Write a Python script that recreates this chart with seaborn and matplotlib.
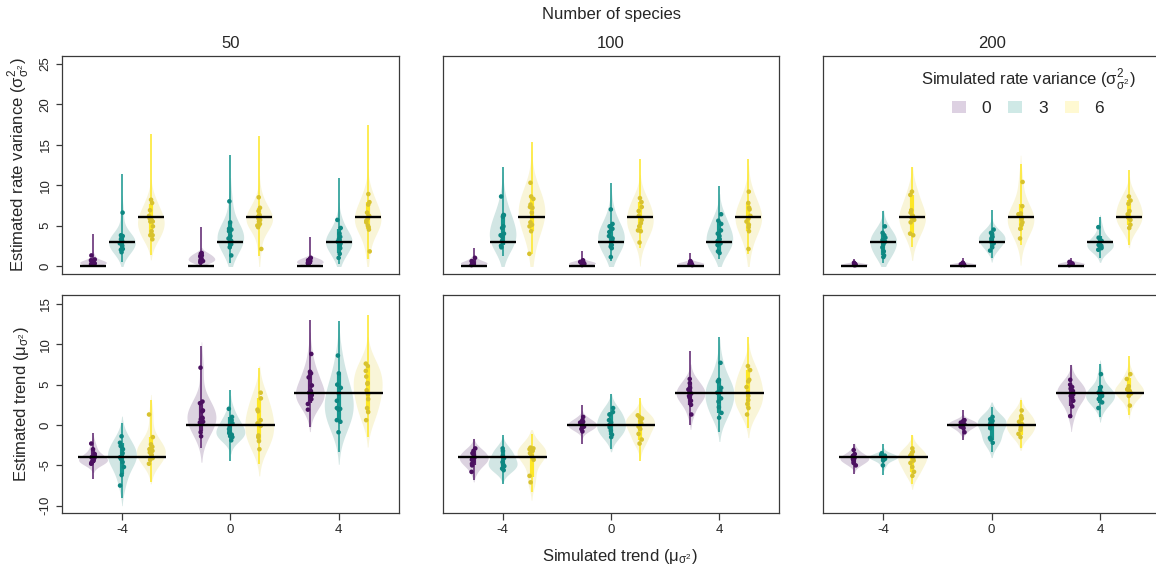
import numpy as np
import pandas as pd
import seaborn as sns
import matplotlib
matplotlib.use("Agg")
import matplotlib.pyplot as plt
from matplotlib.patches import Rectangle, Patch

# ------------------------------------------------------------------ data
species_labels = ["50", "100", "200"]
trend_levels = ["-4", "0", "4"]
variance_levels = ["0", "3", "6"]
true_trend = [-4, 0, 4]
true_variance = [0, 3, 6]

# top row: estimated rate variance; one list per simulated variance (0, 3, 6)
rate50_tm4 = [[0.2, 0.4, 0.5, 0.6, 0.3, 0.8, 1.3, 0.5, 0.2, 0.4, 0.7, 0.3],
              [6.6, 3.8, 3.7, 3.0, 2.8, 2.5, 2.0, 1.7, 3.3, 2.1, 3.5, 2.9],
              [8.2, 7.8, 6.9, 5.9, 5.5, 5.5, 4.9, 4.3, 3.8, 3.3, 3.8, 6.2, 5.7]]
rate50_t0 = [[1.6, 1.5, 1.2, 1.0, 0.8, 0.5, 0.4, 0.9, 0.6, 1.3, 0.7],
             [8.0, 5.4, 4.6, 4.3, 3.7, 3.4, 3.0, 2.3, 1.3, 4.5, 3.1, 2.7],
             [8.5, 7.2, 6.8, 6.3, 5.9, 5.5, 5.0, 4.8, 2.1, 6.1, 5.7, 5.2]]
rate50_t4 = [[1.0, 0.8, 0.6, 0.4, 0.3, 0.2, 0.5, 0.7, 0.3, 0.9],
             [5.7, 4.7, 4.0, 3.3, 3.2, 3.0, 2.8, 2.2, 1.5, 1.0, 3.6, 2.5],
             [8.9, 7.9, 7.6, 6.6, 5.9, 5.6, 5.4, 4.8, 4.5, 1.8, 6.2, 5.0]]
rate50_lo95 = [0.0, 0.5, 1.4, 0.0, 0.4, 1.2, 0.0, 0.2, 0.8]
rate50_hi95 = [3.9, 11.4, 16.4, 4.8, 13.7, 16.1, 3.6, 10.9, 17.4]

rate100_tm4 = [[1.0, 0.5, 0.4, 0.3, 0.2, 0.1, 0.6, 0.3],
               [8.6, 6.3, 6.3, 6.1, 4.9, 4.7, 3.8, 3.6, 3.1, 2.9, 2.5, 2.3, 4.0],
               [10.3, 8.6, 8.3, 7.6, 7.3, 7.2, 6.6, 5.1, 4.9, 4.3, 1.5, 5.4]]
rate100_t0 = [[0.7, 0.5, 0.4, 0.3, 0.2, 0.1, 0.5, 0.3],
              [7.0, 5.2, 4.9, 4.6, 3.7, 3.4, 2.6, 2.4, 2.2, 1.1, 3.1, 4.2],
              [8.4, 7.9, 7.3, 6.8, 6.2, 5.7, 4.9, 4.4, 4.3, 2.9, 5.3]]
rate100_t4 = [[0.6, 0.4, 0.3, 0.2, 0.1, 0.4, 0.2],
              [6.4, 5.6, 5.2, 4.4, 3.7, 3.3, 3.1, 2.8, 1.8, 1.6, 4.0, 2.6],
              [9.2, 7.8, 7.2, 7.0, 6.2, 5.5, 5.1, 4.8, 4.3, 2.1, 5.9]]
rate100_lo95 = [0.0, 1.2, 1.5, 0.0, 0.6, 2.2, 0.0, 0.8, 1.5]
rate100_hi95 = [2.2, 12.3, 15.3, 1.8, 10.3, 13.2, 1.6, 9.9, 13.2]

rate200_tm4 = [[0.3, 0.2, 0.1, 0.2, 0.4, 0.1],
               [4.9, 4.1, 3.8, 3.5, 3.0, 2.7, 2.3, 1.8, 1.3, 1.1, 3.2],
               [9.2, 8.8, 6.9, 6.6, 6.2, 5.7, 5.4, 4.0, 3.8, 6.0]]
rate200_t0 = [[0.4, 0.2, 0.1, 0.2, 0.3, 0.1],
              [4.5, 4.1, 3.9, 3.4, 3.3, 3.0, 2.8, 2.3, 1.9, 3.6],
              [10.4, 7.4, 6.5, 6.4, 6.0, 5.4, 5.1, 4.6, 3.4, 5.8]]
rate200_t4 = [[0.5, 0.3, 0.2, 0.1, 0.2, 0.4],
              [4.8, 3.5, 3.1, 2.6, 2.5, 2.2, 2.0, 2.9, 2.3],
              [8.6, 8.1, 7.7, 6.8, 6.4, 5.7, 5.1, 4.7, 6.0]]
rate200_lo95 = [0.0, 0.4, 2.4, 0.0, 1.0, 2.6, 0.0, 1.0, 2.6]
rate200_hi95 = [0.9, 6.8, 12.3, 1.0, 6.9, 12.6, 1.0, 6.1, 11.9]

# bottom row: estimated trend; one list per simulated variance (0, 3, 6)
trend50_tm4 = [[-2.3, -3.0, -3.9, -4.1, -4.3, -4.5, -4.6, -4.7, -4.8, -3.6, -4.4, -4.0],
               [-1.4, -2.2, -2.6, -3.0, -3.5, -3.9, -4.2, -4.6, -5.2, -6.2, -7.5, -4.0],
               [1.3, -1.5, -2.4, -2.7, -3.0, -3.4, -3.7, -4.1, -4.3, -4.8, -3.2]]
trend50_t0 = [[7.1, 2.9, 2.7, 1.7, 1.8, 0.9, 0.7, 0.8, 0.3, -0.9, -1.4, 0.4],
              [2.0, 1.0, 0.6, 0.2, -0.2, -0.5, -1.0, -1.2, -1.5, -1.9, -1.4, -0.8],
              [4.0, 3.3, 1.9, 1.7, 0.6, -0.1, -1.3, -1.5, -2.0, -3.0, 0.2]]
trend50_t4 = [[8.8, 6.6, 6.4, 5.9, 4.9, 4.2, 4.0, 3.7, 3.5, 3.2, 2.6, 1.9, 3.9],
              [8.6, 6.4, 5.0, 4.6, 3.9, 2.0, 2.1, 1.9, 0.6, 0.4, -0.9, 3.0],
              [7.6, 7.3, 6.7, 6.0, 5.1, 5.2, 3.8, 3.2, 2.1, 1.6, 0.6, 4.3]]
trend50_lo95 = [-6.7, -9.0, -7.0, -2.8, -4.5, -4.8, -0.3, -3.3, -1.5]
trend50_hi95 = [-1.0, 0.3, 3.1, 9.8, 4.3, 7.1, 13.0, 12.9, 13.6]

trend100_tm4 = [[-2.9, -3.2, -3.7, -4.0, -4.3, -4.5, -4.8, -5.0, -5.8, -4.1, -3.5],
                [-2.9, -3.2, -4.1, -4.6, -5.1, -5.4, -5.6, -3.8, -4.9],
                [-2.8, -2.9, -3.2, -3.5, -3.8, -4.3, -6.3, -7.1, -4.0, -3.0]]
trend100_t0 = [[1.0, 0.6, 0.4, 0.1, -0.2, -0.5, -0.8, 0.3, -0.3, 0.0],
               [2.1, 1.6, 1.3, 0.6, 0.0, -0.3, -1.2, -1.5, 0.3, -0.7],
               [1.2, 1.0, 0.8, 0.2, -0.5, -1.1, -1.8, -2.3, 0.5, -0.2]]
trend100_t4 = [[5.7, 5.2, 4.6, 4.4, 3.9, 3.6, 3.0, 2.5, 1.3, 4.1, 3.4],
               [7.7, 5.6, 5.4, 4.6, 4.0, 3.3, 2.9, 2.2, 1.5, 0.9, 4.2],
               [7.3, 6.8, 5.6, 5.4, 4.7, 4.0, 3.1, 2.6, 2.1, 1.3, 3.6]]
trend100_lo95 = [-6.8, -7.3, -8.3, -2.4, -3.0, -4.5, 0.0, -0.9, -0.4]
trend100_hi95 = [-1.7, -1.3, -1.1, 2.5, 3.9, 3.4, 9.2, 10.9, 10.9]

trend200_tm4 = [[-3.1, -3.6, -3.9, -4.1, -4.3, -4.5, -4.7, -5.0, -4.2, -3.8],
                [-3.5, -3.7, -3.9, -4.0, -4.2, -4.4, -5.0, -3.8, -4.1],
                [-2.9, -3.3, -3.8, -4.4, -4.7, -5.2, -5.8, -6.3, -3.6, -4.1]]
trend200_t0 = [[0.6, 0.5, 0.3, 0.1, -0.2, -0.4, -0.9, 0.2, -0.1],
               [1.0, 0.7, 0.3, 0.0, -0.4, -1.6, -1.8, -2.2, 0.5],
               [1.8, 1.1, 0.8, 0.4, -0.3, -1.1, -1.5, 0.1, -0.6]]
trend200_t4 = [[5.6, 5.0, 4.5, 4.2, 3.8, 3.4, 3.0, 2.3, 1.1, 3.6, 4.7],
               [6.3, 4.7, 4.3, 4.0, 3.6, 3.2, 2.8, 2.1, 3.9, 3.3],
               [6.3, 5.7, 4.8, 4.5, 4.2, 4.0, 3.6, 2.4, 3.9, 4.4]]
trend200_lo95 = [-6.1, -6.2, -7.3, -1.9, -3.4, -2.8, 0.9, 1.0, 1.2]
trend200_hi95 = [-2.3, -2.3, -1.2, 1.9, 2.2, 3.1, 7.4, 7.6, 8.6]

# ------------------------------------------------------------------ style
fill_cols = ["#ddd1e2", "#cfe9e6", "#fff9d2"]
line_cols = ["#5a1f6c", "#14958d", "#fde725"]
point_cols = ["#4b1060", "#0e8782", "#d8c22e"]
spine_col = "#3a3a3a"

sns.set_style("white")
plt.rcParams["font.family"] = ["Liberation Sans", "DejaVu Sans"]
plt.rcParams["mathtext.fontset"] = "custom"
plt.rcParams["mathtext.rm"] = "Liberation Sans"
plt.rcParams["mathtext.it"] = "Liberation Sans"
np.random.seed(3)

fig = plt.figure(figsize=(11.56, 5.71), dpi=100)
gs = fig.add_gridspec(2, 3, left=62 / 1156, right=1160 / 1156,
                      top=1 - 56 / 571, bottom=1 - 513 / 571,
                      wspace=44 / 337, hspace=21 / 218)


def long_frame(groups):
    rows = []
    for t, per_var in zip(trend_levels, groups):
        for v, vals in zip(variance_levels, per_var):
            for val in vals:
                rows.append((t, v, val))
    return pd.DataFrame(rows, columns=["trend", "variance", "value"])


def draw_panel(ax, groups, lo95, hi95, row):
    df = long_frame(groups)
    n_before = len(ax.collections)
    sns.violinplot(data=df, x="trend", y="value", hue="variance",
                   order=trend_levels, hue_order=variance_levels,
                   palette=fill_cols, width=0.8,
                   gap=0.08 if row == 0 else 0.0,
                   inner=None, cut=2, bw_adjust=1.4 if row == 0 else 1.2,
                   density_norm="width", linewidth=0, legend=False, ax=ax)
    if row == 0:
        clip = Rectangle((-5, 0), 20, 100, transform=ax.transData)
        for coll in ax.collections[n_before:]:
            coll.set_clip_path(clip)

    offsets = [(j - 1) * 0.8 / 3 for j in range(3)]
    k = 0
    for i, per_var in enumerate(groups):
        for j, vals in enumerate(per_var):
            x = i + offsets[j]
            ax.vlines(x, lo95[k], hi95[k], color=line_cols[j], lw=1.1, zorder=3)
            q1, q3 = np.percentile(vals, [10, 90])
            ax.vlines(x, q1, q3, color=line_cols[j], lw=3.0, zorder=3)
            k += 1

    sns.stripplot(data=df, x="trend", y="value", hue="variance",
                  order=trend_levels, hue_order=variance_levels,
                  palette=point_cols, dodge=True, jitter=0.06, size=3.3,
                  linewidth=0, legend=False, ax=ax, zorder=4)

    if row == 0:
        for i in range(3):
            for j, v in enumerate(true_variance):
                x = i + offsets[j]
                ax.hlines(v, x - 0.12, x + 0.12, color="black", lw=1.7, zorder=5)
    else:
        for i, t in enumerate(true_trend):
            ax.hlines(t, i - 0.41, i + 0.41, color="black", lw=1.7, zorder=5)

    ax.set_xlim(-0.553, 2.553)
    ax.set_xlabel("")
    ax.set_ylabel("")
    for s in ax.spines.values():
        s.set_visible(True)
        s.set_color(spine_col)
        s.set_linewidth(0.9)


panels_top = [(rate50_tm4, rate50_t0, rate50_t4, rate50_lo95, rate50_hi95),
              (rate100_tm4, rate100_t0, rate100_t4, rate100_lo95, rate100_hi95),
              (rate200_tm4, rate200_t0, rate200_t4, rate200_lo95, rate200_hi95)]
panels_bot = [(trend50_tm4, trend50_t0, trend50_t4, trend50_lo95, trend50_hi95),
              (trend100_tm4, trend100_t0, trend100_t4, trend100_lo95, trend100_hi95),
              (trend200_tm4, trend200_t0, trend200_t4, trend200_lo95, trend200_hi95)]

axes = [[fig.add_subplot(gs[r, c]) for c in range(3)] for r in range(2)]

for c in range(3):
    a, b, d, lo, hi = panels_top[c]
    ax = axes[0][c]
    draw_panel(ax, [a, b, d], lo, hi, 0)
    ax.set_ylim(-1.0, 26.0)
    ax.set_xticks([])
    ax.set_title(species_labels[c], fontsize=12, pad=6)

    a, b, d, lo, hi = panels_bot[c]
    ax = axes[1][c]
    draw_panel(ax, [a, b, d], lo, hi, 1)
    ax.set_ylim(-10.9, 16.1)
    ax.set_xticks([0, 1, 2])
    ax.set_xticklabels(trend_levels)
    ax.tick_params(axis="x", direction="out", length=4.8, width=0.9,
                   color=spine_col, labelsize=9.5, pad=3, bottom=True)

for r in range(2):
    ax = axes[r][0]
    ticks = [0, 5, 10, 15, 20, 25] if r == 0 else [-10, -5, 0, 5, 10, 15]
    ax.set_yticks(ticks)
    ax.set_yticklabels([str(t) for t in ticks])
    ax.tick_params(axis="y", direction="out", length=4.5, width=0.9,
                   color=spine_col, labelsize=9.5, pad=3, left=True,
                   labelrotation=90)
    for c in (1, 2):
        axes[r][c].set_yticks([])

axes[0][0].set_ylabel(r"Estimated rate variance ($\sigma^2_{\sigma^2}$)",
                      fontsize=12, labelpad=6)
axes[1][0].set_ylabel(r"Estimated trend ($\mu_{\sigma^2}$)", fontsize=12,
                      labelpad=6)

fig.text(612 / 1156, 1 - 15 / 571, "Number of species", ha="center",
         va="center", fontsize=12)
fig.text(620 / 1156, 1 - 556 / 571, r"Simulated trend ($\mu_{\sigma^2}$)",
         ha="center", va="center", fontsize=12)

handles = [Patch(facecolor=fc, edgecolor="none") for fc in fill_cols]
leg = fig.legend(handles, variance_levels, ncol=3, frameon=False,
                 title=r"Simulated rate variance ($\sigma^2_{\sigma^2}$)",
                 title_fontsize=12, fontsize=12.5,
                 loc="upper center", bbox_to_anchor=(1028 / 1156, 1 - 54 / 571),
                 handlelength=0.8, handleheight=0.65, handletextpad=0.9,
                 columnspacing=1.0, borderpad=0.2)

fig.canvas.draw()
for r in range(2):
    for lbl in axes[r][0].get_yticklabels():
        lbl.set_rotation(90)
        lbl.set_verticalalignment("center")
fig.canvas.draw()
renderer = fig.canvas.get_renderer()
lbl0 = [t for t in axes[0][0].get_yticklabels() if t.get_text() == "25"][0]
bb = lbl0.get_window_extent(renderer)
assert bb.height > bb.width, f"tick label not rotated: {bb}"

fig.savefig("out.png", dpi=100)
